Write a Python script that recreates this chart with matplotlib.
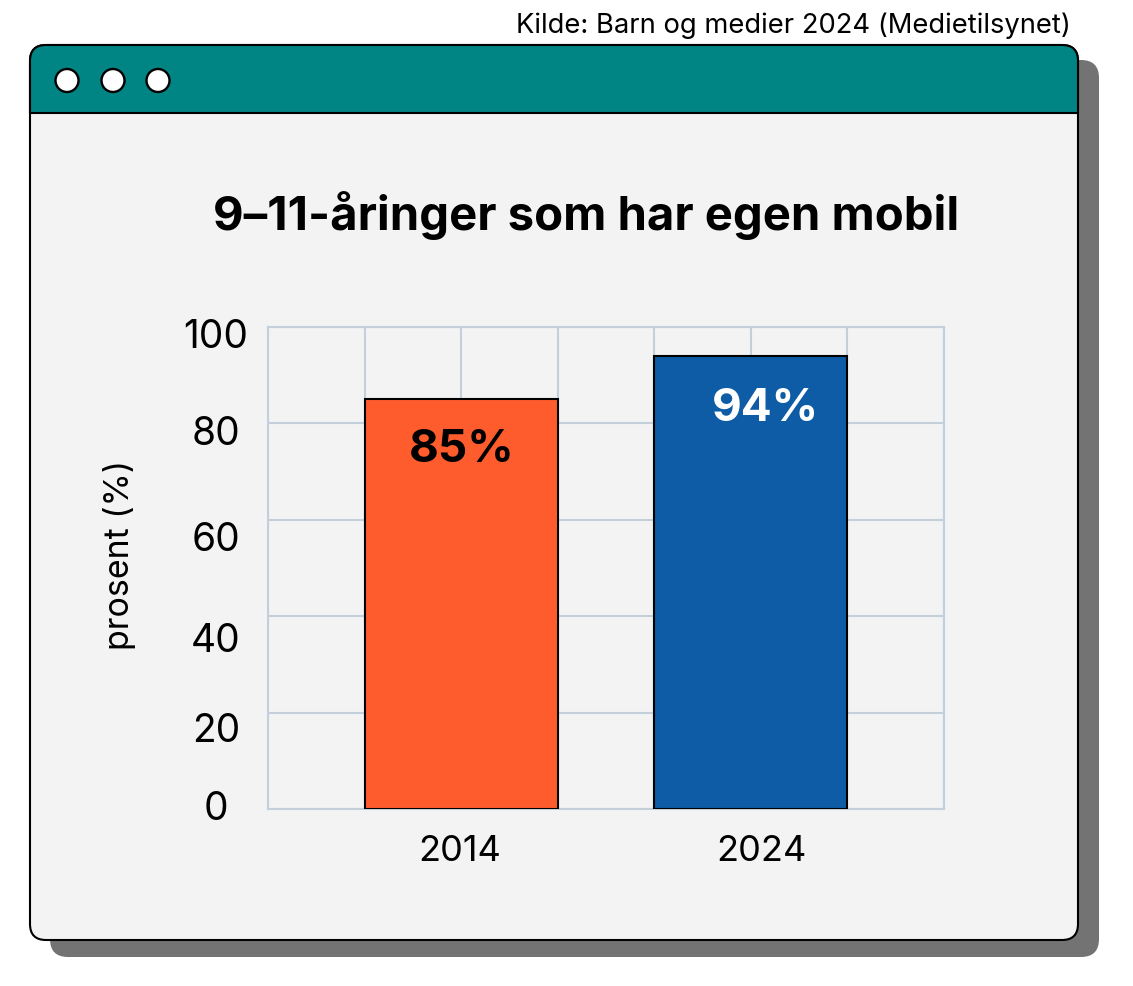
import matplotlib
matplotlib.use('Agg')
from matplotlib import pyplot as plt
from matplotlib.patches import FancyBboxPatch, Circle, PathPatch
from matplotlib.path import Path

plt.rcParams['font.family'] = ['Inter', 'DejaVu Sans']

years = ['2014', '2024']
values = [85, 94]
value_labels = ['85%', '94%']
bar_colors = ['#ff5c2e', '#0e5ca5']
label_colors = ['black', 'white']
yticks = [0, 20, 40, 60, 80, 100]
xpos = [2, 5]

# offsets of the text from its tick, in pixels, the labels are not quite aligned in the original
ytick_dy = [0, -18, -24, -20, -10, -10]
xtick_dx = [-1, 11]
value_dx = [1, 15]
value_y = [450, 409]

W, H = 1133, 987
fig = plt.figure(figsize=(W / 100, H / 100), dpi=100, facecolor='white')

# window frame drawn in pixel coordinates
bg = fig.add_axes([0, 0, 1, 1])
bg.set_xlim(0, W)
bg.set_ylim(H, 0)
bg.axis('off')

bg.add_patch(FancyBboxPatch((50 + 18, 61 + 18), 1049 - 36, 897 - 36,
                            boxstyle='round,pad=18,rounding_size=18', fc='#737373', ec='none'))
bg.add_patch(FancyBboxPatch((30 + 16, 46 + 16), 1048 - 32, 895 - 32,
                            boxstyle='round,pad=16,rounding_size=16', fc='#f3f3f3', ec='black', lw=1.5))
# header with rounded top corners
r = 16
header = Path([(30, 114), (30, 46 + r), (30, 46), (30 + r, 46), (1078 - r, 46), (1078, 46), (1078, 46 + r),
               (1078, 114), (30, 114)],
              [Path.MOVETO, Path.LINETO, Path.CURVE3, Path.CURVE3, Path.LINETO, Path.CURVE3, Path.CURVE3,
               Path.LINETO, Path.CLOSEPOLY])
bg.add_patch(PathPatch(header, fc='#008484', ec='black', lw=1.5))
for cx in [67, 113, 158]:
    bg.add_patch(Circle((cx, 81.5), 11.5, fc='white', ec='black', lw=1.7))

bg.text(1071, 26, 'Kilde: Barn og medier 2024 (Medietilsynet)', ha='right', va='center', fontsize=19.7, color='black')
bg.text(586, 215, '9–11-åringer som har egen mobil', ha='center', va='center', fontsize=34, fontweight='bold', color='black')
bg.text(119, 555, 'prosent (%)', ha='center', va='center', rotation=90, fontsize=24.4, color='black')

# chart
ax = fig.add_axes([268 / W, 1 - 810 / H, (944 - 268) / W, (810 - 328) / H])
ax.patch.set_alpha(0)
ax.set_xlim(0, 7)
ax.set_ylim(0, 100)
ax.set_axisbelow(True)
ax.set_xticks(range(8))
ax.set_yticks(yticks)
ax.grid(True, color='#c3d0dc', lw=1.5)
ax.tick_params(length=0, labelleft=False, labelbottom=False)
for s in ax.spines.values():
    s.set_color('#c3d0dc')
    s.set_linewidth(1.5)

ax.bar(xpos, values, width=2, color=bar_colors, edgecolor='black', linewidth=1.5, zorder=3)

for v, dy in zip(yticks, ytick_dy):
    ax.annotate(str(v), (0, v), xytext=(-52, dy), textcoords='offset pixels',
                ha='center', va='center', fontsize=28, color='black', annotation_clip=False)
for x, year, dx in zip(xpos, years, xtick_dx):
    ax.annotate(year, (x, 0), xytext=(dx, -42), textcoords='offset pixels',
                ha='center', va='center', fontsize=26, color='black', annotation_clip=False)

# value labels, placed in pixels on top of the bars
top = fig.add_axes([0, 0, 1, 1])
top.set_xlim(0, W)
top.set_ylim(H, 0)
top.axis('off')
for x, txt, c, dx, py in zip(xpos, value_labels, label_colors, value_dx, value_y):
    top.text(268 + x * (944 - 268) / 7 + dx, py, txt, ha='center', va='center', fontsize=33,
             fontweight='bold', color=c)

fig.savefig('out.png', dpi=100)
